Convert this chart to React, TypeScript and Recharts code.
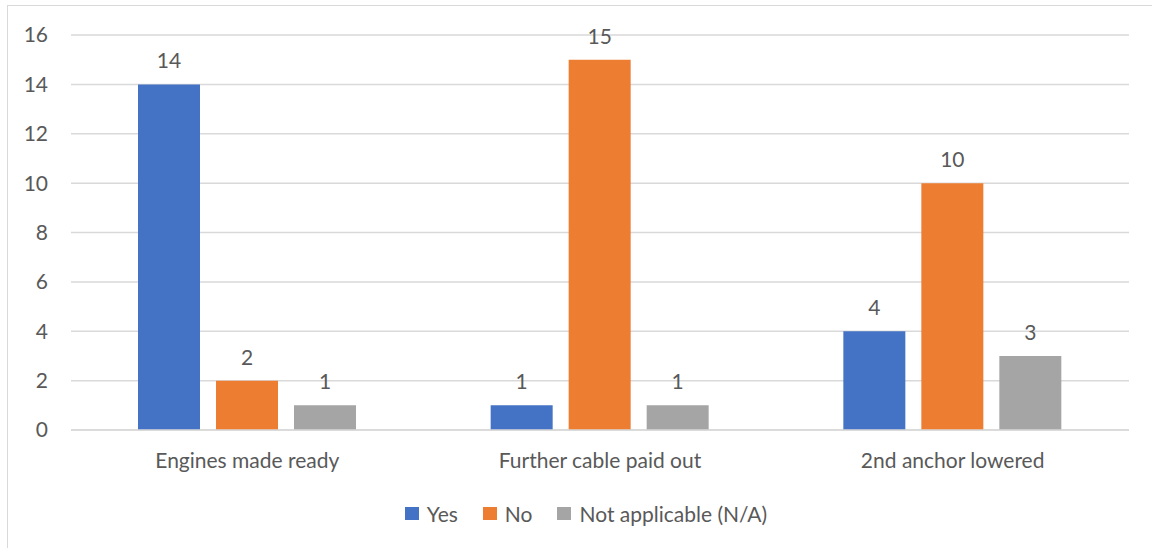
import { Bar, BarChart, CartesianGrid, LabelList, Legend, XAxis, YAxis } from "recharts";

const categories = ["Engines made ready", "Further cable paid out", "2nd anchor lowered"];
const yesValues = [14, 1, 4];
const noValues = [2, 15, 10];
const naValues = [1, 1, 3];
const yTicks = [0, 2, 4, 6, 8, 10, 12, 14, 16];

const seriesInfo = [
  { key: "yes", name: "Yes", color: "#4472C4" },
  { key: "no", name: "No", color: "#ED7D31" },
  { key: "na", name: "Not applicable (N/A)", color: "#A5A5A5" },
];

const data = categories.map((name, i) => ({
  name,
  yes: yesValues[i],
  no: noValues[i],
  na: naValues[i],
}));

const FONT = "Lato, 'Open Sans', sans-serif";
const TEXT = "#595959";
const FS = 21;

function LegendContent() {
  return (
    <div style={{ display: "flex", justifyContent: "center", alignItems: "center", height: 24, paddingLeft: 20, fontFamily: FONT, fontSize: FS, color: TEXT }}>
      {seriesInfo.map((s, i) => (
        <div key={s.key} style={{ display: "flex", alignItems: "center", marginRight: i < seriesInfo.length - 1 ? 25 : 0 }}>
          <span style={{ display: "inline-block", width: 14, height: 13, background: s.color, marginRight: 8 }} />
          <span>{s.name}</span>
        </div>
      ))}
    </div>
  );
}

export default function App() {
  return (
    <div style={{ position: "absolute", left: 0, top: 0, width: 1152, height: 548, overflow: "hidden", background: "#fff" }}>
      <div style={{ position: "absolute", left: 7, top: 5, width: 1160, height: 560, border: "1px solid #d9d9d9" }} />
      <div style={{ position: "absolute", left: 0, top: 0 }}>
        <BarChart
          width={1152}
          height={548}
          data={data}
          margin={{ top: 35, right: 23, left: 0, bottom: 34 }}
          barSize={62}
          barGap={16}
        >
          <CartesianGrid vertical={false} stroke="#d9d9d9" strokeWidth={1.5} />
          <XAxis
            dataKey="name"
            height={60}
            axisLine={{ stroke: "#d9d9d9", strokeWidth: 1.5 }}
            tickLine={false}
            tickMargin={17}
            tick={{ fill: TEXT, fontSize: FS, fontFamily: FONT }}
          />
          <YAxis
            width={71}
            domain={[0, 16]}
            ticks={yTicks}
            axisLine={false}
            tickLine={false}
            tickMargin={17}
            tick={{ fill: TEXT, fontSize: FS, fontFamily: FONT }}
          />
          <Legend
            verticalAlign="bottom"
            content={<LegendContent />}
            wrapperStyle={{ top: 501, bottom: "auto", left: 0, width: 1152, height: 24 }}
          />
          {seriesInfo.map((s) => (
            <Bar key={s.key} dataKey={s.key} name={s.name} fill={s.color} isAnimationActive={false}>
              <LabelList dataKey={s.key} position="top" offset={16} fill={TEXT} fontSize={FS} fontFamily={FONT} />
            </Bar>
          ))}
        </BarChart>
      </div>
    </div>
  );
}
